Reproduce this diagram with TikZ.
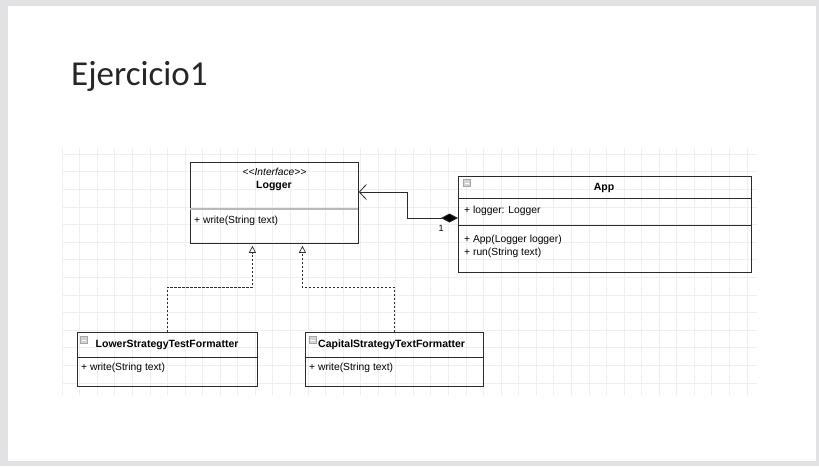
\documentclass[tikz,border=0pt]{standalone}
\usepackage{fontspec}
\setmainfont{Liberation Sans}
\newfontfamily\titlefont{Carlito}
\usetikzlibrary{arrows.meta,calc}
\definecolor{slidegray}{HTML}{E2E2E4}
\definecolor{gridc}{HTML}{EFEFEF}
\definecolor{linec}{HTML}{2B2B2B}
\begin{document}
\begin{tikzpicture}[x=1pt,y=-1pt,
  umlbox/.style={draw=linec,line width=0.8pt,anchor=north west,inner sep=0pt},
  txt/.style={inner sep=0pt,anchor=west,font=\fontsize{10.3}{12}\selectfont},
  boldtxt/.style={inner sep=0pt,font=\fontsize{10.5}{12}\selectfont\bfseries},
  sep/.style={draw=linec,line width=0.8pt},
  icon/.style={draw=gray!70,fill=gray!35,minimum size=7pt,inner sep=0pt,line width=0.4pt,
    path picture={\draw[white,line width=0.9pt] ([xshift=1.3pt]path picture bounding box.west) -- ([xshift=-1.3pt]path picture bounding box.east);}},
  realize/.style={draw=linec,line width=0.7pt,dash pattern=on 2.2pt off 1.8pt,
    -{Triangle[open,length=7pt,width=7pt,line width=0.7pt]},shorten >=2pt},
  compose/.style={draw=linec,line width=0.8pt,
    {Diamond[length=17pt,width=9pt,fill=black]}-{Straight Barb[length=7pt,width=15pt,line width=0.8pt]}}
]
\useasboundingbox (0,0) rectangle (819,466);
\fill[slidegray] (0,0) rectangle (819,466);
\fill[white] (8,6) rectangle (816,461);
% faint grid
\begin{scope}
\clip (62,148) rectangle (757,395);
\foreach \i in {0,...,40} {\draw[gridc,line width=0.6pt] (62+17.56*\i,148) -- (62+17.56*\i,395);}
\foreach \j in {0,...,14} {\draw[gridc,line width=0.6pt] (62,154+17.6*\j) -- (757,154+17.6*\j);}
\end{scope}
% title
\node[inner sep=0pt,anchor=base west,font=\titlefont\fontsize{35}{40}\selectfont,text=black!85] (title) at (71,85) {Ejercicio1};
% Logger
\node[umlbox,minimum width=168pt,minimum height=81pt] (logger) at (190,162) {};
\draw[draw=gray!55,line width=1.4pt] (190.4,209) -- (357.6,209);
\node[inner sep=0pt,font=\fontsize{10.2}{11}\selectfont\itshape] (stereo) at (274.5,172) {{<}{<}Interface{>}{>}};
\node[boldtxt] (loggername) at (274,185.5) {Logger};
\node[txt] (loggerop) at (194,221) {+ write(String text)};
% App
\node[umlbox,minimum width=293pt,minimum height=96pt] (app) at (458,176) {};
\draw[sep] (458,198) -- (751,198);
\draw[sep] (458,225) -- (751,225);
\node[icon] (appicon) at (467,183) {};
\node[boldtxt] (appname) at (604,188) {App};
\node[txt] (appattr) at (464,210.5) {+ logger: Logger};
\node[txt] (appop1) at (464,240) {+ App(Logger logger)};
\node[txt] (appop2) at (464,253) {+ run(String text)};
% Lower
\node[umlbox,minimum width=180pt,minimum height=54pt] (lower) at (77,332) {};
\draw[sep] (77,357) -- (257,357);
\node[icon] (lowericon) at (84,340) {};
\node[boldtxt,anchor=west] (lowername) at (95.5,344.5) {LowerStrategyTestFormatter};
\node[txt] (lowerop) at (81,368) {+ write(String text)};
% Capital
\node[umlbox,minimum width=178pt,minimum height=54pt] (capital) at (305,332) {};
\draw[sep] (305,357) -- (483,357);
\node[icon] (capicon) at (312.5,340) {};
\node[boldtxt,anchor=west] (capname) at (318,344.5) {CapitalStrategyTextFormatter};
\node[txt] (capop) at (309,368) {+ write(String text)};
% connectors
\coordinate (yA) at (0,192);
\coordinate (yB) at (0,218);
\draw[compose] (app.west |- yB) -- ++(-51,0) |- (logger.east |- yA);
\node[inner sep=0pt,font=\fontsize{9}{10}\selectfont] (one) at (441,228) {1};
\draw[realize] (lower.north) -- ++(0,-45) -| ([xshift=-22pt]logger.south);
\draw[realize] (capital.north) -- ++(0,-45) -| ([xshift=28pt]logger.south);
\end{tikzpicture}
\end{document}
